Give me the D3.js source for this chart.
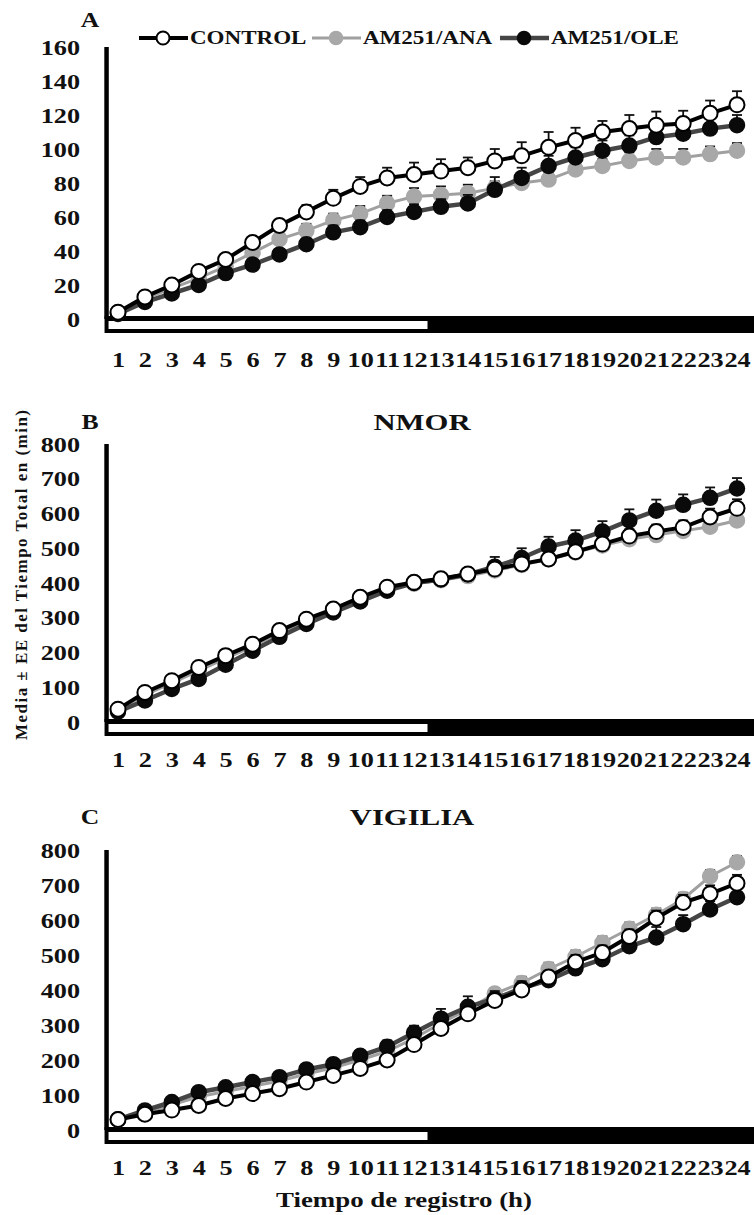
<!DOCTYPE html>
<html>
<head>
<meta charset="utf-8">
<title>Tiempo total acumulado</title>
<script src="https://d3js.org/d3.v7.min.js"></script>
<style>
  body { margin: 0; background: #fff; }
  text { font-family: "Liberation Serif", "Times New Roman", serif; font-weight: bold; fill: #111; }
</style>
</head>
<body>
<script>
const hours = [1,2,3,4,5,6,7,8,9,10,11,12,13,14,15,16,17,18,19,20,21,22,23,24];
const hourLabels = hours.map(String);
const seriesNames = ['CONTROL', 'AM251/ANA', 'AM251/OLE'];

// panel A
const ticksA = [0, 20, 40, 60, 80, 100, 120, 140, 160];
const aControl = [4,13,20,28,35,45,55,63,71,78,83,85,87,89,93,96,101,105,110,112,114,115,121,126];
const aAna     = [4,12,18,24,31,39,47,52,58,62,68,72,73,74,77,80,82,88,90,93,95,95,97,99];
const aOle     = [3,10,15,20,27,32,38,44,51,54,60,63,66,68,76,83,90,95,99,102,107,109,112,114];
const aControlErr = [1,1.5,2,2,2.5,3,3.5,4,5,5.5,6,7,7,6,7,8,9,7.5,6.5,8,8,7.5,7.5,8];
const aAnaErr     = [1,1.5,2,2,2.5,3,3.5,4,4,4.5,4.5,5,5,5,4,4,4,4,4,5,5,5,4.5,4.5];
const aOleErr     = [1,1.5,2,2,2.5,3,3,3.5,4,4,4,4.5,4.5,5,7.5,6,6,6,6,6,6,6,6,6];

// panel B (NMOR)
const ticksB = [0, 100, 200, 300, 400, 500, 600, 700, 800];
const bControl = [37,85,119,157,191,224,263,296,325,359,388,402,412,426,440,455,469,490,512,535,548,560,590,615];
const bAna     = [35,78,112,148,183,217,257,290,320,352,382,398,408,420,436,452,468,488,508,526,538,550,562,580];
const bOle     = [30,62,95,124,165,205,245,282,315,347,378,400,410,425,447,472,505,522,548,580,608,625,645,672];
const bControlErr = [5,8,10,10,12,12,12,12,12,12,12,12,12,14,16,18,18,18,20,20,20,20,24,26];
const bAnaErr     = [5,8,10,10,12,12,12,12,12,12,12,12,12,12,14,14,16,16,18,18,18,18,18,18];
const bOleErr     = [5,8,10,12,12,12,12,12,12,12,12,12,14,18,28,28,28,30,30,32,32,30,30,30];

// panel C (VIGILIA)
const ticksC = [0, 100, 200, 300, 400, 500, 600, 700, 800];
const cControl = [30,45,57,70,90,104,118,137,156,176,200,244,290,332,370,400,437,480,507,553,605,650,675,705];
const cAna     = [30,50,72,95,110,125,140,160,178,200,225,262,305,345,390,420,460,495,535,575,615,660,725,765];
const cOle     = [30,56,80,108,122,137,151,173,188,212,238,278,318,352,375,405,428,462,488,525,550,588,630,665];
const cControlErr = [5,8,10,10,12,12,12,12,12,14,14,16,16,16,16,18,18,20,20,20,22,22,24,24];
const cAnaErr     = [5,8,10,10,12,12,12,12,12,14,14,16,16,16,16,18,18,18,18,18,18,18,18,18];
const cOleErr     = [5,8,10,12,12,12,12,12,14,16,18,20,28,30,22,20,20,20,22,26,30,26,24,24];

const lightsOn = [0.5, 12.5];
const lightsOff = [12.5, 24.7];

const W = 754, H = 1215;
const SX = 1.28; // the original figure is stretched sideways

const styles = {
  'CONTROL':   { line: '#000', lw: 4, fill: '#fff', stroke: '#000', sw: 2 },
  'AM251/ANA': { line: '#a0a0a0', lw: 3, fill: '#a8a8a8', stroke: '#a8a8a8', sw: 1.5 },
  'AM251/OLE': { line: '#454545', lw: 4.5, fill: '#0a0a0a', stroke: '#0a0a0a', sw: 1.5 }
};

const svg = d3.select('body').append('svg')
  .attr('width', W).attr('height', H);

const x = d3.scaleLinear().domain([1, 24]).range([118, 737]);

function addText(g, px, py, str, size, anchor) {
  return g.append('text')
    .attr('transform', `translate(${px},${py}) scale(${SX},1)`)
    .attr('dy', '0.35em')
    .attr('text-anchor', anchor || 'start')
    .style('font-size', size + 'px')
    .text(str);
}

const panels = [
  { letter: 'A', title: '', ticks: ticksA, top: 47, zero: 319, headY: 20, tickY: 360,
    series: [[aAna, aAnaErr], [aOle, aOleErr], [aControl, aControlErr]] },
  { letter: 'B', title: 'NMOR', titleX: 422, ticks: ticksB, top: 444, zero: 722, headY: 422, tickY: 760,
    series: [[bAna, bAnaErr], [bOle, bOleErr], [bControl, bControlErr]] },
  { letter: 'C', title: 'VIGILIA', titleX: 412, ticks: ticksC, top: 850, zero: 1130, headY: 817, tickY: 1168,
    series: [[cAna, cAnaErr], [cOle, cOleErr], [cControl, cControlErr]] }
];
const drawOrder = ['AM251/ANA', 'AM251/OLE', 'CONTROL'];

panels.forEach(p => {
  const g = svg.append('g');
  const y = d3.scaleLinear()
    .domain([0, p.ticks[p.ticks.length - 1]])
    .range([p.zero, p.top]);

  addText(g, 90, p.headY, p.letter, 20, 'middle');
  if (p.title) addText(g, p.titleX, p.headY, p.title, 24, 'middle');

  // light / dark bar under the axis
  g.append('rect')
    .attr('x', x(lightsOn[0])).attr('y', y(0) - 3)
    .attr('width', x(lightsOff[1]) - x(lightsOn[0])).attr('height', 17)
    .attr('fill', '#000');
  g.append('rect')
    .attr('x', x(lightsOn[0]) + 4).attr('y', y(0) + 2)
    .attr('width', x(lightsOn[1]) - x(lightsOn[0]) - 4).attr('height', 8)
    .attr('fill', '#fff');

  // y axis line
  g.append('line')
    .attr('x1', x(lightsOn[0]) + 2).attr('x2', x(lightsOn[0]) + 2)
    .attr('y1', y(p.ticks[p.ticks.length - 1])).attr('y2', y(0))
    .attr('stroke', '#000').attr('stroke-width', 4.5);

  g.append('g')
    .attr('transform', 'translate(80,0)')
    .call(d3.axisLeft(y).tickValues(p.ticks).tickSize(0).tickPadding(0))
    .call(a => a.select('.domain').remove())
    .call(a => a.selectAll('text')
      .attr('x', 0).attr('dy', '0.35em')
      .attr('transform', `scale(${SX},1)`)
      .style('font-size', '20.5px'));

  g.append('g')
    .attr('transform', `translate(0,${p.tickY})`)
    .call(d3.axisBottom(x).tickValues(hours).tickFormat(h => hourLabels[h - 1]).tickSize(0).tickPadding(0))
    .call(a => a.select('.domain').remove())
    .call(a => a.selectAll('text')
      .attr('y', 0).attr('dy', '0.35em')
      .attr('transform', `scale(${SX},1)`)
      .style('font-size', '20.5px'));

  drawOrder.forEach((name, idx) => {
    const [vals, errs] = p.series[idx];
    const st = styles[name];
    const pts = hours.map((h, i) => ({ h, v: vals[i], e: errs[i] }));

    g.append('path')
      .datum(pts)
      .attr('fill', 'none')
      .attr('stroke', st.line)
      .attr('stroke-width', st.lw)
      .attr('d', d3.line().x(d => x(d.h)).y(d => y(d.v)));

    const eb = g.append('g').attr('stroke', '#111').attr('stroke-width', 1.8);
    eb.selectAll('line.bar').data(pts).enter().append('line')
      .attr('x1', d => x(d.h)).attr('x2', d => x(d.h))
      .attr('y1', d => y(d.v)).attr('y2', d => y(d.v + d.e));
    eb.selectAll('line.cap').data(pts).enter().append('line')
      .attr('x1', d => x(d.h) - 5).attr('x2', d => x(d.h) + 5)
      .attr('y1', d => y(d.v + d.e)).attr('y2', d => y(d.v + d.e));

    g.selectAll(null).data(pts).enter().append('circle')
      .attr('cx', d => x(d.h)).attr('cy', d => y(d.v))
      .attr('r', 7.5)
      .attr('fill', st.fill)
      .attr('stroke', st.stroke)
      .attr('stroke-width', st.sw);
  });
});

// legend
const legendX = [139, 312, 500];
const legend = svg.append('g');
seriesNames.forEach((name, i) => {
  const st = styles[name];
  const lx = legendX[i];
  legend.append('line')
    .attr('x1', lx).attr('x2', lx + 49).attr('y1', 38).attr('y2', 38)
    .attr('stroke', st.line).attr('stroke-width', st.lw);
  legend.append('circle')
    .attr('cx', lx + 24).attr('cy', 38).attr('r', 6.5)
    .attr('fill', st.fill).attr('stroke', st.stroke).attr('stroke-width', st.sw);
  addText(legend, lx + 51, 38, name, 18, 'start');
});

// axis titles
svg.append('text')
  .attr('transform', 'translate(21,575) rotate(-90)')
  .attr('dy', '0.35em')
  .attr('text-anchor', 'middle')
  .attr('textLength', 330)
  .attr('lengthAdjust', 'spacing')
  .style('font-size', '17px')
  .text('Media ± EE del Tiempo Total en (min)');

addText(svg, 404, 1200, 'Tiempo de registro (h)', 21, 'middle');
</script>
</body>
</html>
